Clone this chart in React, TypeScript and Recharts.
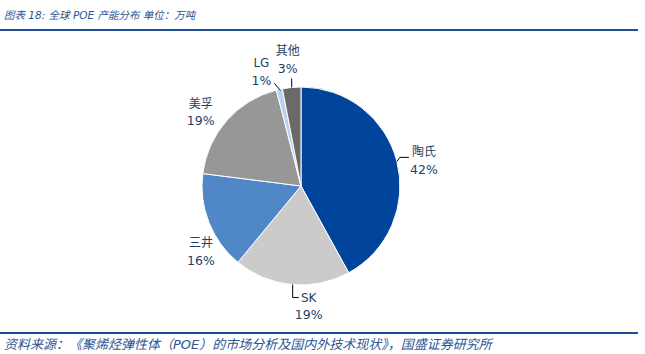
import React from "react";
import { PieChart, Pie, Cell } from "recharts";

const companies = ["陶氏", "SK", "三井", "美孚", "LG", "其他"];
const shares = [42, 19, 16, 19, 1, 3];
const colors = ["#00449B", "#CBCBCB", "#5087C7", "#979797", "#BCD1EC", "#6A6A6A"];

const data = companies.map((name, i) => ({ name, value: shares[i] }));

const RAD = Math.PI / 180;
const TEXT = "#243F66";
const FONT = "'DejaVu Sans', 'Noto Sans CJK SC', sans-serif";

// label layout offsets relative to slice's outer edge point (text dx/dy, leader points)
const labelLayout: Record<number, { tx: number; ty: number; line?: [number, number][] }> = {
  0: { tx: 27, ty: -9, line: [[0, 0], [3, -4], [12, -4]] },
  1: { tx: 17, ty: 13, line: [[1, 0], [1, 13], [7, 13]] },
  2: { tx: -8, ty: 21 },
  3: { tx: -26, ty: -17 },
  4: { tx: -18, ty: -26, line: [[1, 1], [-5, -6]] },
  5: { tx: -4, ty: -36, line: [[0, 0], [0, -9]] },
};

const renderLabel = (props: any) => {
  const { cx, cy, midAngle, outerRadius, index, name, value } = props;
  const ex = cx + outerRadius * Math.cos(-midAngle * RAD);
  const ey = cy + outerRadius * Math.sin(-midAngle * RAD);
  const lay = labelLayout[index];
  const x = ex + lay.tx;
  const y = ey + lay.ty;
  return (
    <g key={`lbl-${index}`}>
      {lay.line && (
        <polyline
          points={lay.line.map(([dx, dy]) => `${ex + dx},${ey + dy}`).join(" ")}
          fill="none"
          stroke="#000"
          strokeWidth={1}
        />
      )}
      <text x={x} y={y} textAnchor="middle" dominantBaseline="central" fill={TEXT} fontSize={12} fontFamily={FONT}>
        {name}
      </text>
      <text x={x} y={y + 17} textAnchor="middle" dominantBaseline="central" fill={TEXT} fontSize={12.5} fontFamily={FONT}>
        {`${value}%`}
      </text>
    </g>
  );
};

export default function App() {
  return (
    <div style={{ position: "fixed", left: 0, top: 0, width: 645, height: 354, background: "#fff", fontFamily: FONT }}>
      <div
        style={{
          position: "absolute",
          left: 4,
          top: 7,
          fontSize: 10.5,
          fontStyle: "italic",
          color: "#2D5596",
          whiteSpace: "nowrap",
        }}
      >
        图表 18: 全球 POE 产能分布 单位：万吨
      </div>
      <div style={{ position: "absolute", left: 0, top: 29, width: 638, height: 2, background: "#1F4E96" }} />
      <div style={{ position: "absolute", left: 0, top: 332, width: 638, height: 2, background: "#1F4E96" }} />
      <div
        style={{
          position: "absolute",
          left: 4,
          top: 334,
          fontSize: 13,
          fontStyle: "italic",
          color: "#2D5596",
          whiteSpace: "nowrap",
        }}
      >
        资料来源：《聚烯烃弹性体（POE）的市场分析及国内外技术现状》，国盛证券研究所
      </div>
      <div style={{ position: "absolute", left: 0, top: 0 }}>
        <PieChart width={645} height={354} margin={{ top: 0, right: 0, bottom: 0, left: 0 }}>
          <Pie
            data={data}
            dataKey="value"
            nameKey="name"
            cx={301}
            cy={186}
            outerRadius={99}
            startAngle={90}
            endAngle={-270}
            stroke="#fff"
            strokeWidth={1}
            label={renderLabel}
            labelLine={false}
            isAnimationActive={false}
          >
            {data.map((d, i) => (
              <Cell key={d.name} fill={colors[i]} />
            ))}
          </Pie>
        </PieChart>
      </div>
    </div>
  );
}
